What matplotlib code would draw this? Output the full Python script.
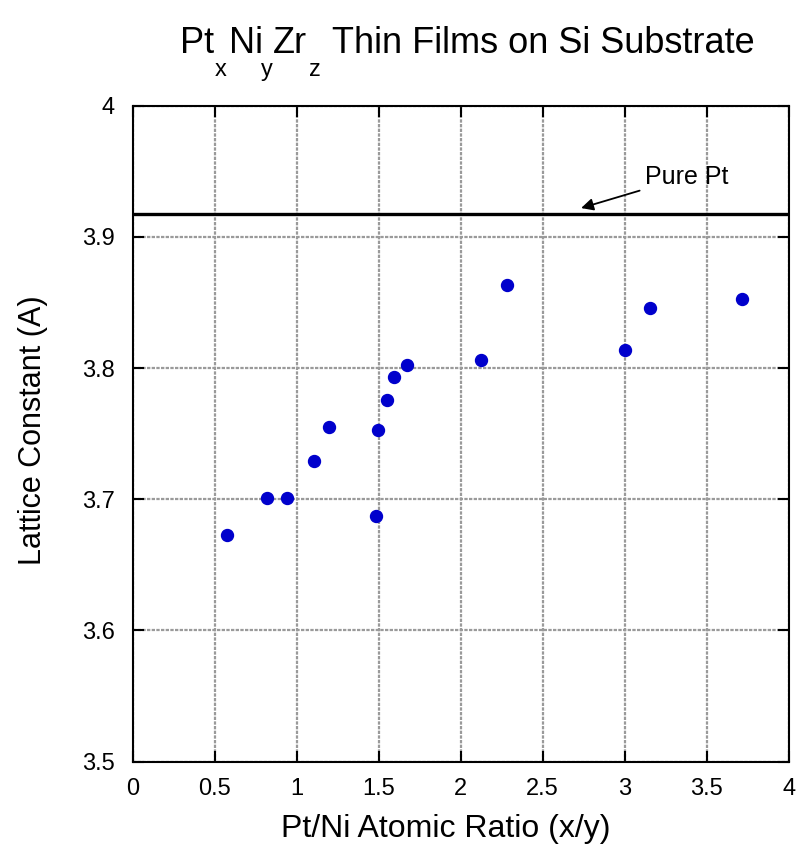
import matplotlib
matplotlib.use("Agg")
import matplotlib.pyplot as plt

plt.rcParams['font.family'] = ['Liberation Sans', 'DejaVu Sans']

# Pt/Ni atomic ratio and measured lattice constant (A)
ratio = [0.573, 0.817, 0.939, 1.105, 1.195, 1.484, 1.496, 1.553, 1.595, 1.673,
         2.124, 2.282, 3.002, 3.154, 3.715]
lattice = [3.673, 3.701, 3.701, 3.729, 3.755, 3.687, 3.753, 3.776, 3.793, 3.802,
           3.806, 3.863, 3.814, 3.846, 3.853]
# reference value for pure platinum
pure_pt = 3.9175

fig = plt.figure(figsize=(7.98, 8.5), dpi=100)
ax = fig.add_axes([0.1663, 0.1039, 0.8221, 0.7717])

ax.axhline(pure_pt, color='black', lw=2.4, zorder=2)
ax.plot(ratio, lattice, 'o', color='#0000cc', ms=8.6, mec='#0000cc', zorder=3)

ax.set_xlim(0, 4)
ax.set_ylim(3.5, 4.0)
ax.set_xticks([0, 0.5, 1, 1.5, 2, 2.5, 3, 3.5, 4])
ax.set_xticklabels(['0', '0.5', '1', '1.5', '2', '2.5', '3', '3.5', '4'])
ax.set_yticks([3.5, 3.6, 3.7, 3.8, 3.9, 4.0])
ax.set_yticklabels(['3.5', '3.6', '3.7', '3.8', '3.9', '4'])
ax.grid(True, color='#9a9a9a', ls=(0, (1.5, 0.6)), lw=1.6, zorder=1)
ax.tick_params(direction='in', length=8, width=1.5, labelsize=17,
               top=True, right=True)
ax.tick_params(axis='x', pad=11.5)
ax.tick_params(axis='y', pad=13)
for s in ax.spines.values():
    s.set_linewidth(1.5)

ax.annotate('Pure Pt', xy=(2.734, 3.922), xytext=(3.124, 3.946),
            fontsize=18, va='center', ha='left',
            arrowprops=dict(arrowstyle='-|>', color='black', lw=1.3,
                            shrinkA=2, shrinkB=0, mutation_scale=18))

ax.text(0.477, -0.115, 'Pt/Ni Atomic Ratio (x/y)', transform=ax.transAxes,
        fontsize=23, ha='center', va='baseline')
ax.text(-0.152, 0.506, 'Lattice Constant (A)', transform=ax.transAxes,
        fontsize=22, ha='center', va='center', rotation=90)

# title with dropped subscripts, each piece at its own left edge (pixels)
pieces = ['Pt', 'x', 'Ni', 'y', 'Zr', 'z', 'Thin Films on Si Substrate']
starts = [180, 215, 229, 261, 273, 309, 332]
is_sub = [False, True, False, True, False, True, False]
base = 850 - 53
for txt, x0, sub in zip(pieces, starts, is_sub):
    size = 17 if sub else 26
    y = base - 23 if sub else base
    fig.text(x0 / 798, y / 850, txt, fontsize=size, ha='left', va='baseline')

fig.savefig('out.png', dpi=100)
